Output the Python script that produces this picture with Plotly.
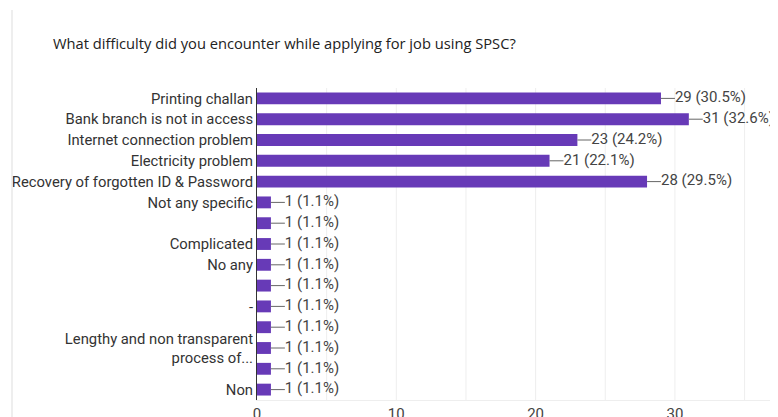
import plotly.graph_objects as go

title = "What difficulty did you encounter while applying for job using SPSC?"
labels = [
    "Printing challan",
    "Bank branch is not in access",
    "Internet connection problem",
    "Electricity problem",
    "Recovery of forgotten ID & Password",
    "Not any specific",
    "",
    "Complicated",
    "No any",
    "",
    "-",
    "",
    "Lengthy and non transparent<br>process of...",
    "",
    "Non",
]
counts = [29, 31, 23, 21, 28, 1, 1, 1, 1, 1, 1, 1, 1, 1, 1]
percents = [30.5, 32.6, 24.2, 22.1, 29.5, 1.1, 1.1, 1.1, 1.1, 1.1, 1.1, 1.1, 1.1, 1.1, 1.1]
x_ticks = [0, 10, 20, 30]

pos = list(range(len(labels)))
purple = "#673AB7"
FONT = "Roboto"

# page body has an 8px margin; compensate so the figure lines up with the window
OX, OY = 8, 8
W, H = 778 - OX, 417 - OY
L, R, T, B = 257 - OX, 0, 88 - OY, 17
PW = W - L - R
PH = H - T - B

fig = go.Figure()
fig.add_trace(go.Bar(
    x=counts, y=pos, orientation="h",
    marker=dict(color=purple, line=dict(width=0)),
    width=0.57, hoverinfo="skip", showlegend=False,
))

# leader lines
lx, ly = [], []
for c, p in zip(counts, pos):
    lx += [c, c + 1, None]
    ly += [p, p, None]
fig.add_trace(go.Scatter(
    x=lx, y=ly, mode="lines", line=dict(color="#666666", width=1),
    hoverinfo="skip", showlegend=False,
))
fig.add_trace(go.Scatter(
    x=[c + 1 for c in counts], y=pos, mode="text",
    text=[f"{c} ({p}%)" for c, p in zip(counts, percents)],
    textposition="middle right",
    textfont=dict(family=FONT, size=15, color="#444444"),
    hoverinfo="skip", showlegend=False, cliponaxis=False,
))

fig.update_layout(
    width=W, height=H,
    margin=dict(l=L, r=R, t=T, b=B, autoexpand=False),
    paper_bgcolor="white", plot_bgcolor="white",
    xaxis=dict(
        range=[0, 37.4], tickvals=x_ticks, ticktext=[str(v) for v in x_ticks],
        showgrid=False, zeroline=False, automargin=False,
        tickfont=dict(family=FONT, size=15, color="#444444"),
        showline=True, linecolor="#eeeeee", linewidth=1,
        fixedrange=True,
    ),
    yaxis=dict(
        range=[14.5, -0.5], tickvals=pos, ticktext=labels, automargin=False,
        tickfont=dict(family=FONT, size=14.8, color="#333333"),
        showline=True, linecolor="#333333", linewidth=1,
        showgrid=False, zeroline=False, ticks="", ticklen=0, ticklabelstandoff=0,
        fixedrange=True,
    ),
    annotations=[dict(
        text=title, xref="paper", yref="paper",
        x=(51 - OX - L) / PW, y=(H - (43 - OY) - B) / PH, xanchor="left", yanchor="middle",
        showarrow=False, font=dict(family="Open Sans", size=14.7, color="#222222"),
    )],
)

# vertical gridlines at every 5 units
shapes = []
for g in range(5, 40, 5):
    shapes.append(dict(type="line", xref="x", yref="paper", x0=g, x1=g, y0=0, y1=1,
                       line=dict(color="#eeeeee", width=1), layer="below"))
# card border on the left
bx = (12 - OX - L) / PW
shapes.append(dict(type="line", xref="paper", yref="paper",
                   x0=bx, x1=bx, y0=-0.2, y1=(H - (10 - OY) - B) / PH,
                   line=dict(color="#dddddd", width=1)))
fig.update_layout(shapes=shapes)

fig.write_html("out.html")
